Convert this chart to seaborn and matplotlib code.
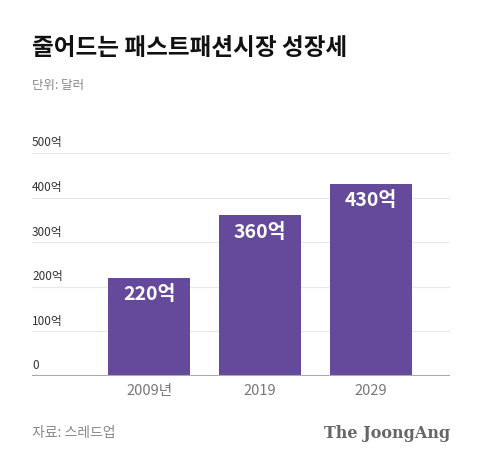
import matplotlib
matplotlib.use("Agg")
import matplotlib.pyplot as plt
import seaborn as sns

years = ["2009년", "2019", "2029"]
values = [220, 360, 430]
value_labels = ["220억", "360억", "430억"]
y_ticks = [0, 100, 200, 300, 400, 500]
y_tick_labels = ["0", "100억", "200억", "300억", "400억", "500억"]

sns.set_style("white")
plt.rcParams['font.family'] = ['Noto Sans CJK KR', 'DejaVu Sans']

fig = plt.figure(figsize=(4.8, 4.63), dpi=100)
ax = fig.add_axes([32/480, 1-376/463, 418/480, 223/463])

sns.barplot(x=list(range(len(years))), y=values, color="#65499a", width=0.74,
            saturation=1, ax=ax, native_scale=True, linewidth=0)
ax.set_xlim(-1.054, 2.71)
ax.set_ylim(0, 500)
for y in y_ticks[1:]:
    ax.axhline(y, color="#e8e8e8", lw=0.8, zorder=0)
ax.axhline(0, color="#aaaaaa", lw=1.5, zorder=3)
for y, lab in zip(y_ticks, y_tick_labels):
    ax.text(-1.054, y + 8, lab, fontsize=8.5, color="#333333", va="bottom", ha="left")
for i, (v, lab) in enumerate(zip(values, value_labels)):
    ax.text(i, v - 16, lab, color="white", fontsize=14, fontweight="bold", ha="center", va="top")

ax.set_xticks(range(len(years)))
ax.set_xticklabels(years, fontsize=10.5, color="#777777")
ax.set_yticks([])
ax.tick_params(axis="x", length=0, pad=6)
sns.despine(ax=ax, left=True, bottom=True)

fig.text(32/480, 1-48/463, "줄어드는 패스트패션시장 성장세", fontsize=17, fontweight="bold",
         color="#111111", va="center")
fig.text(32/480, 1-85/463, "단위: 달러", fontsize=9, color="#888888", va="center")
fig.text(32/480, 1-433/463, "자료: 스레드업", fontsize=10, color="#888888", va="center")
fig.text(450/480, 1-433/463, "The JoongAng", fontsize=11.5, fontweight="bold", color="#666666",
         family="DejaVu Serif", ha="right", va="center")

fig.savefig("out.png", dpi=100, facecolor="white")
